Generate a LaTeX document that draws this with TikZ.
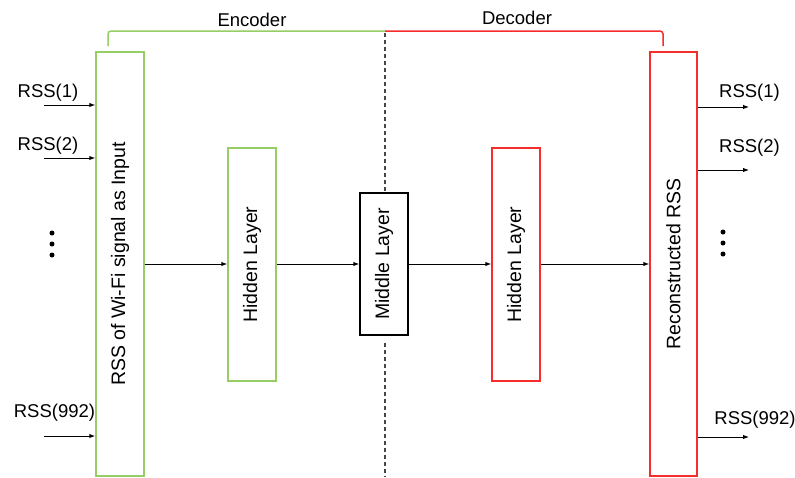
\documentclass[tikz,border=0pt]{standalone}
\usepackage{fontspec}
\setmainfont{Liberation Sans}
\usetikzlibrary{arrows.meta}
\definecolor{encgreen}{RGB}{150,205,100}
\definecolor{decred}{RGB}{245,45,45}
\definecolor{dashgray}{RGB}{70,70,70}
\begin{document}
\begin{tikzpicture}[x=1pt,y=-1pt,
  font=\fontsize{18.5}{22}\selectfont,
  layer/.style={draw,line width=1.5pt,inner sep=0pt,minimum width=48pt,text=black,font=\fontsize{19.5}{22}\selectfont},
  arr/.style={-{Latex[length=6pt,width=4.5pt]},line width=1pt},
  brk/.style={line width=1.5pt,rounded corners=3pt},
  divider/.style={line width=1.3pt,dashgray,dash pattern=on 4pt off 3pt},
  lbl/.style={inner sep=0pt,anchor=center},
  dot/.style={circle,fill=black,inner sep=0pt,minimum size=5pt}]
\useasboundingbox (0,0) rectangle (795,477);
% layers
\node[layer,draw=encgreen,minimum height=424pt] (in) at (120,264) {\rotatebox{90}{RSS of Wi-Fi signal as Input}};
\node[layer,draw=encgreen,minimum height=233pt] (h1) at (252,264.5) {\rotatebox{90}{Hidden Layer}};
\node[layer,draw=black,minimum height=142pt] (mid) at (384,264) {\rotatebox{90}{Middle Layer}};
\node[layer,draw=decred,minimum height=233pt] (h2) at (516,264.5) {\rotatebox{90}{Hidden Layer}};
\node[layer,draw=decred,minimum height=424pt,minimum width=47pt] (out) at (673.5,264) {\rotatebox{90}{Reconstructed RSS}};
% dashed divider
\coordinate (dtop) at (385,33);
\coordinate (dbot) at (385,477);
\draw[divider] (dtop) -- (mid.north -| dtop);
\draw[divider] ([yshift=-7pt]mid.south -| dtop) -- (dbot);
% brackets
\coordinate (el) at (108,46);
\coordinate (dr) at (663,46);
\coordinate (bj) at (385,31);
\draw[brk,encgreen] (el) |- (bj);
\draw[brk,decred] (bj) -| (dr);
\node[lbl] (enc) at (252,20) {Encoder};
\node[lbl] (dec) at (517,18) {Decoder};
% main flow
\draw[arr] (in.east |- 0,264) -- (h1.west |- 0,264);
\draw[arr] (h1.east |- 0,264) -- (mid.west |- 0,264);
\draw[arr] (mid.east |- 0,264) -- (h2.west |- 0,264);
\draw[arr] (h2.east |- 0,264) -- (out.west |- 0,264);
% inputs
\coordinate (i1) at (44,105);
\coordinate (i2) at (44,158);
\coordinate (i3) at (44,436);
\draw[arr] (i1) -- (i1 -| in.west);
\draw[arr] (i2) -- (i2 -| in.west);
\draw[arr] (i3) -- (i3 -| in.west);
\node[lbl] (li1) at (48,93) {RSS(1)};
\node[lbl] (li2) at (48,146) {RSS(2)};
\node[lbl] (li3) at (54.5,413) {RSS(992)};
\node[dot] (ld1) at (52,233) {};
\node[dot] (ld2) at (52,244) {};
\node[dot] (ld3) at (52,255) {};
% outputs
\coordinate (o1) at (749,107);
\coordinate (o2) at (749,170);
\coordinate (o3) at (749,437);
\draw[arr] (o1 -| out.east) -- (o1);
\draw[arr] (o2 -| out.east) -- (o2);
\draw[arr] (o3 -| out.east) -- (o3);
\node[lbl] (lo1) at (749.5,93) {RSS(1)};
\node[lbl] (lo2) at (749.5,148) {RSS(2)};
\node[lbl] (lo3) at (755,420) {RSS(992)};
\node[dot] (rd1) at (723,232) {};
\node[dot] (rd2) at (723,243) {};
\node[dot] (rd3) at (723,254) {};
\end{tikzpicture}
\end{document}
